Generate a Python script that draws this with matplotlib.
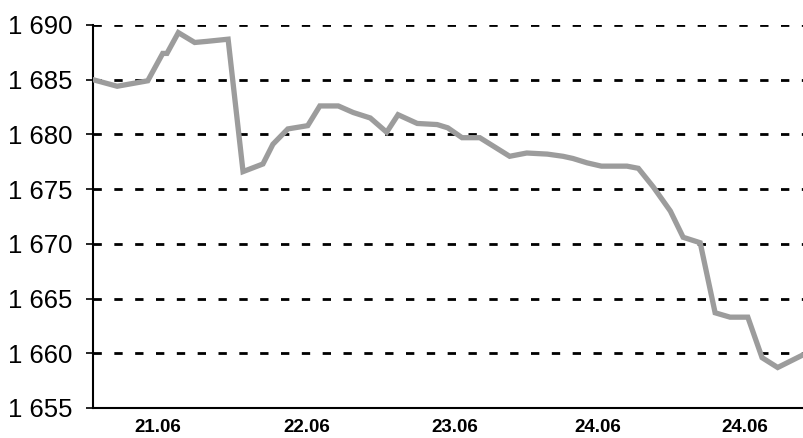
import matplotlib
matplotlib.use("Agg")
import matplotlib.pyplot as plt
from matplotlib.ticker import FuncFormatter

plt.rcParams['font.family'] = ['Liberation Sans', 'DejaVu Sans']

# position along the time axis (0..100) and price
t = [0, 3.4, 7.7, 9.8, 10.4, 12.0, 14.3, 16.0, 19.0, 21.1, 23.9, 25.3, 27.4,
     30.2, 31.9, 34.5, 36.6, 39.0, 41.3, 42.9, 45.6, 48.4, 49.9, 51.9, 54.4,
     58.6, 61.0, 63.9, 66.1, 67.5, 69.5, 71.5, 75.1, 76.7, 78.8, 81.2, 83.0,
     85.4, 87.5, 89.6, 92.1, 94.1, 96.3, 100]
price = [1685.0, 1684.4, 1684.9, 1687.4, 1687.4, 1689.3, 1688.4, 1688.5, 1688.7,
         1676.6, 1677.3, 1679.1, 1680.5, 1680.8, 1682.6, 1682.6, 1682.0, 1681.5,
         1680.2, 1681.8, 1681.0, 1680.9, 1680.6, 1679.7, 1679.7, 1678.0, 1678.3,
         1678.2, 1678.0, 1677.8, 1677.4, 1677.1, 1677.1, 1676.9, 1675.2, 1673.0,
         1670.6, 1670.1, 1663.7, 1663.3, 1663.3, 1659.6, 1658.7, 1659.9]

tick_pos = [9.1, 30.1, 50.9, 71.0, 91.7]
tick_labels = ["21.06", "22.06", "23.06", "24.06", "24.06"]
y_ticks = [1655, 1660, 1665, 1670, 1675, 1680, 1685, 1690]

fig = plt.figure(figsize=(8.04, 4.38), dpi=100)
ax = fig.add_axes([0.1157, 0.0685, 0.8843, 0.8745])

for y in y_ticks[1:]:
    ax.axhline(y, color='black', lw=2, linestyle=(0, (3, 4.5)), zorder=1)

ax.plot(t, price, color='#9c9c9c', lw=3.8, solid_joinstyle='miter', zorder=3)

ax.set_xlim(0, 100)
ax.set_ylim(1655, 1690)
ax.set_yticks(y_ticks)
ax.yaxis.set_major_formatter(FuncFormatter(lambda v, p: "1 %03d" % (int(v) - 1000)))
ax.set_xticks(tick_pos)
ax.set_xticklabels(tick_labels, fontweight='bold', fontsize=13.5)

ax.tick_params(axis='y', length=5, width=1.2, pad=10, labelsize=18.5)
ax.tick_params(axis='x', length=0, pad=8)

for s in ['top', 'right']:
    ax.spines[s].set_visible(False)
ax.spines['left'].set_linewidth(1.5)
ax.spines['bottom'].set_linewidth(1.5)

fig.savefig("out.png", dpi=100)
